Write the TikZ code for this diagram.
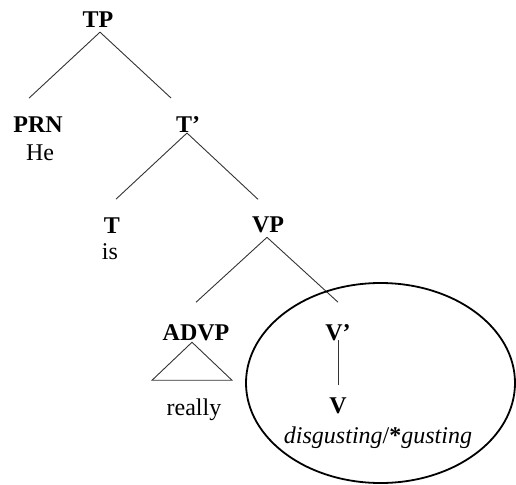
\documentclass[tikz,border=0pt]{standalone}
\usepackage{fontspec}
\setmainfont{Liberation Serif}
\usetikzlibrary{calc}
\begin{document}
\begin{tikzpicture}[x=1pt,y=-1pt,
  cat/.style={font=\fontsize{24}{26}\selectfont\bfseries, inner sep=0pt, anchor=base},
  word/.style={font=\fontsize{24}{26}\selectfont, inner sep=0pt, anchor=base},
  branch/.style={draw=black!80, line width=0.9pt},
  circ/.style={draw=black, line width=1.8pt}]
\useasboundingbox (0,0) rectangle (516,484);
% nodes
\node[cat] (TP) at (98,28) {TP};
\node[cat] (PRN) at (38,132) {PRN};
\node[word] (He) at (40,160) {He};
\node[cat] (Tbar) at (188,132) {T’};
\node[cat] (T) at (112,233) {T};
\node[word] (is) at (110,259) {is};
\node[cat] (VP) at (268,232) {VP};
\node[cat] (ADVP) at (196,340) {ADVP};
\node[cat] (Vbar) at (338,340) {V’};
\node[word] (really) at (194,415) {really};
\node[cat] (V) at (338,413) {V};
\node[word] (dis) at (378,443) {\textit{disgusting}/\textbf{*}\textit{gusting}};
% branches
\draw[branch] ($(TP)+(2,12)$) -- ($(PRN)+(-9,-26)$);
\draw[branch] ($(TP)+(2,12)$) -- ($(Tbar)+(-17,-26)$);
\draw[branch] ($(Tbar)+(-1,9)$) -- ($(T)+(4,-26)$);
\draw[branch] ($(Tbar)+(-1,9)$) -- ($(VP)+(-10,-25)$);
\draw[branch] ($(VP)+(-1,13)$) -- ($(ADVP)+(0,-30)$);
\draw[branch] ($(VP)+(-1,13)$) -- ($(Vbar)+(0,-30)$);
\draw[branch] ($(Vbar)+(0,8)$) -- ($(V)+(0,-20)$);
% triangle
\draw[branch] ($(ADVP)+(-4,10)$) -- ($(really)+(-42,-29)$) -- ($(really)+(38,-29)$) -- cycle;
% ellipse
\draw[circ] (380.5,383) ellipse [x radius=134.5, y radius=100];
\end{tikzpicture}
\end{document}
